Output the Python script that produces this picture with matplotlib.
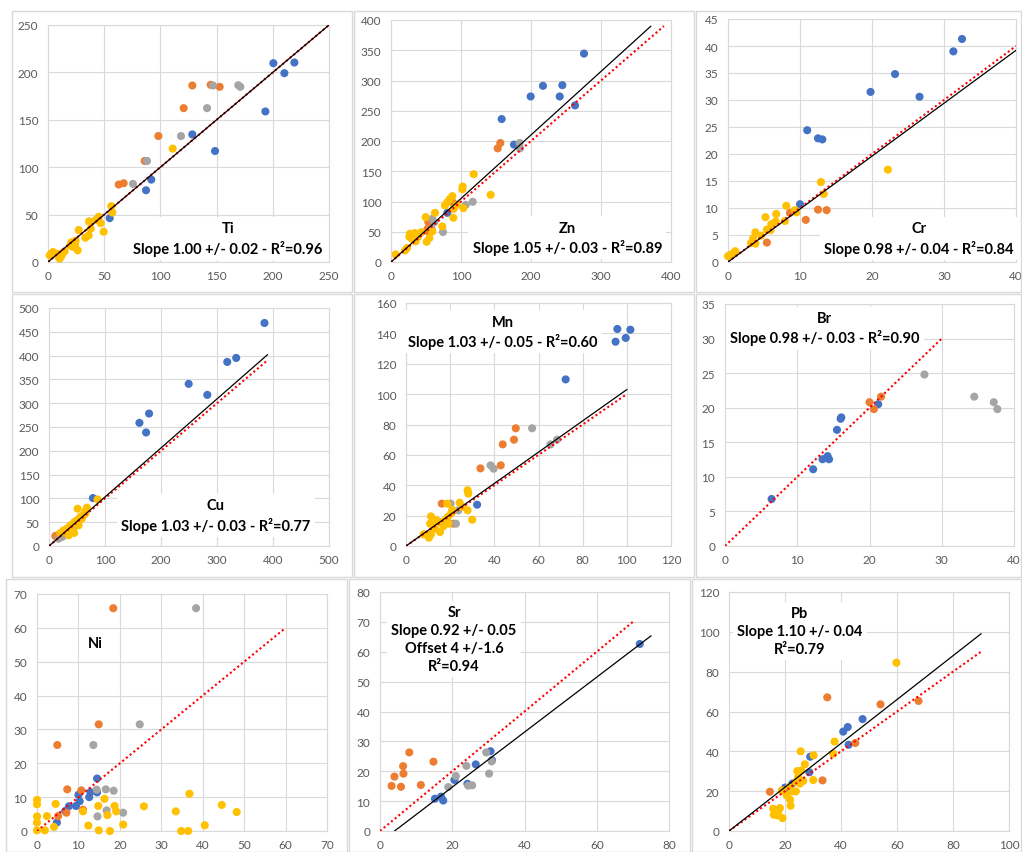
import numpy as np
import matplotlib.pyplot as plt
from matplotlib.patches import Rectangle

BLUE = '#4472C4'
ORANGE = '#ED7D31'
GRAY = '#A5A5A5'
YELLOW = '#FFC000'

# ---- data: (x, y) pairs per series ----
ti_blue = [(200.5, 209.7), (210.3, 199.2), (219.2, 210.4), (193.4, 158.8), (128.4, 134.6),
           (148.6, 117.1), (91.9, 86.9), (87.2, 75.7), (54.9, 46.3)]
ti_orange = [(128.4, 186.2), (144.7, 186.9), (152.7, 184.8), (120.7, 162.3), (98.2, 132.9),
             (86.0, 106.6), (62.9, 81.7), (67.3, 83.1)]
ti_gray = [(146.8, 186.2), (169.3, 186.5), (171.1, 184.8), (141.5, 162.3), (118.3, 132.9),
           (88.1, 106.6), (75.6, 82.4)]
ti_yellow = [(110.9, 119.6), (56.3, 58.9), (57.2, 52.2), (45.1, 47.7), (36.5, 42.8), (42.7, 44.5),
             (46.9, 41.0), (49.5, 31.9), (38.0, 35.1), (36.2, 28.0), (33.2, 25.6), (27.3, 33.7),
             (26.4, 12.3), (24.0, 17.5), (20.8, 20.7), (21.9, 16.1), (24.6, 22.4), (19.9, 17.5),
             (13.3, 9.8), (9.8, 4.6), (10.4, 3.5), (4.4, 10.5), (1.5, 7.0), (7.4, 8.8),
             (11.9, 6.3), (14.8, 11.2), (3.0, 8.8)]

zn_blue = [(275.7, 344.5), (217.1, 291.2), (244.8, 292.3), (199.5, 273.6), (241.0, 273.6),
           (262.9, 258.8), (158.1, 236.3), (175.7, 194.0), (80.5, 81.3)]
zn_orange = [(156.2, 196.7), (152.4, 187.9), (53.3, 65.9), (52.4, 54.9), (54.3, 49.5), (89.0, 97.8)]
zn_gray = [(183.8, 196.7), (184.3, 187.9), (116.7, 99.5), (106.7, 94.5), (74.3, 49.5),
           (61.9, 65.9), (58.1, 54.9), (59.0, 71.4)]
zn_yellow = [(118.1, 145.1), (142.4, 111.0), (102.4, 124.7), (101.9, 120.3), (103.3, 89.0),
             (87.6, 108.8), (80.5, 98.9), (89.5, 87.9), (89.0, 73.1), (62.9, 81.3), (49.5, 74.2),
             (73.3, 58.8), (43.8, 49.5), (38.1, 41.2), (34.3, 47.8), (27.1, 46.7), (26.2, 41.8),
             (29.5, 38.5), (35.2, 34.1), (51.0, 33.5), (54.8, 39.6), (59.0, 50.5), (22.9, 23.1),
             (20.0, 19.2), (6.7, 12.6), (77.1, 93.4), (84.3, 104.4), (93.8, 94.5)]

cr_blue = [(32.5, 41.3), (31.3, 39.0), (23.2, 34.8), (19.8, 31.5), (26.6, 30.6), (11.0, 24.4),
           (12.5, 22.9), (13.1, 22.7), (10.0, 10.7)]
cr_orange = [(12.5, 9.7), (13.7, 9.6), (10.8, 7.8), (5.4, 3.6), (8.6, 9.1)]
cr_gray = []
cr_yellow = [(22.2, 17.1), (12.9, 14.8), (13.3, 12.6), (8.1, 10.4), (9.3, 9.6), (9.5, 9.2),
             (6.7, 8.9), (5.2, 8.3), (7.9, 7.6), (6.6, 7.5), (6.0, 7.0), (5.4, 6.0), (5.9, 5.9),
             (4.6, 4.9), (3.8, 5.5), (3.8, 3.4), (3.2, 3.5), (3.5, 4.4), (1.0, 2.0), (0.3, 1.3),
             (0.0, 1.1), (0.6, 1.5)]

cu_blue = [(384.8, 468.5), (334.3, 395.1), (318.3, 386.7), (249.4, 340.6), (282.7, 317.5),
           (161.5, 258.7), (173.4, 238.5), (178.7, 278.3), (78.4, 100.7)]
cu_orange = [(11.3, 21.0), (15.5, 22.4), (19.0, 19.0), (32.0, 33.0)]
cu_gray = [(42.8, 36.4), (39.8, 31.5), (23.2, 18.9), (17.2, 15.4), (26.1, 22.4), (29.1, 25.9)]
cu_yellow = [(86.7, 97.9), (67.7, 80.4), (65.3, 73.4), (51.1, 78.3), (64.7, 67.8), (55.8, 60.8),
             (49.9, 53.8), (45.1, 50.3), (38.0, 43.4), (32.1, 36.4), (35.0, 22.4), (45.1, 27.3),
             (52.8, 43.4), (58.8, 57.3), (41.0, 32.9), (26.1, 32.9), (20.2, 27.3), (60.6, 64.3)]

mn_blue = [(95.7, 142.9), (101.6, 142.4), (99.5, 137.0), (94.9, 134.5), (72.3, 109.7), (32.2, 27.2)]
mn_orange = [(49.7, 77.5), (48.9, 70.0), (43.8, 66.9), (42.9, 53.1), (33.7, 51.1), (16.2, 27.9),
             (21.4, 14.7)]
mn_gray = [(57.1, 77.5), (68.4, 70.0), (65.4, 66.9), (38.3, 53.1), (39.7, 50.9), (20.2, 27.9),
           (23.7, 23.5), (22.6, 14.7)]
mn_yellow = [(27.9, 36.7), (28.2, 34.5), (24.3, 28.5), (18.7, 27.9), (20.9, 23.9), (25.5, 25.7),
             (27.9, 23.5), (30.0, 17.3), (20.4, 21.3), (18.9, 19.1), (17.7, 16.9), (15.4, 15.8),
             (16.9, 13.0), (13.9, 16.9), (11.3, 19.5), (10.9, 14.7), (13.1, 11.4), (15.4, 9.2),
             (11.3, 7.7), (8.0, 7.7), (10.4, 5.5), (19.2, 14.7), (12.4, 13.6)]

br_blue = [(6.45, 6.8), (12.2, 11.1), (13.5, 12.55), (14.2, 13.0), (14.4, 12.55), (15.5, 16.8),
           (16.0, 18.4), (16.1, 18.6), (21.2, 20.5)]
br_orange = [(20.0, 20.8), (20.6, 19.8), (21.6, 21.6)]
br_gray = [(27.6, 24.8), (34.5, 21.6), (37.2, 20.8), (37.7, 19.8)]
br_yellow = []

ni_blue = [(14.5, 15.5), (14.5, 11.4), (12.9, 11.5), (12.6, 10.0), (10.0, 10.7), (10.3, 8.8),
           (9.4, 7.4), (7.7, 7.3), (6.8, 5.9), (4.8, 2.5)]
ni_orange = [(18.4, 65.8), (14.9, 31.5), (4.9, 25.4), (7.3, 12.3), (10.7, 12.0), (11.1, 6.3),
             (7.1, 5.4), (5.1, 4.4)]
ni_gray = [(38.4, 65.8), (24.8, 31.5), (13.6, 25.4), (16.6, 12.3), (18.5, 11.9), (14.6, 4.3),
           (16.8, 6.1), (20.8, 5.4), (14.4, 12.2)]
ni_yellow = [(0.0, 9.2), (0.0, 7.9), (0.0, 4.3), (0.0, 2.5), (0.0, 0.2), (1.9, 0.2), (2.4, 4.4),
             (4.5, 8.0), (4.1, 1.2), (11.1, 5.8), (12.4, 1.6), (14.8, 7.4), (14.9, 0.2), (16.3, 9.5),
             (17.0, 4.7), (17.6, 0.0), (18.7, 7.4), (19.1, 5.8), (20.8, 1.9), (25.8, 7.3),
             (33.5, 5.8), (34.8, 0.0), (36.8, 11.0), (36.5, 0.0), (40.5, 1.7), (44.6, 7.7),
             (48.2, 5.6)]

sr_blue = [(15.2, 10.8), (16.9, 11.5), (17.5, 10.2), (20.6, 17.1), (24.2, 15.8), (26.5, 22.3),
           (30.6, 26.7), (31.0, 23.7), (71.9, 62.6)]
sr_orange = [(3.2, 15.1), (4.0, 18.2), (5.8, 14.8), (6.4, 21.7), (6.5, 19.2), (8.1, 26.3),
             (11.3, 15.4), (14.8, 23.2)]
sr_gray = [(18.9, 14.7), (21.0, 18.4), (23.9, 21.8), (24.4, 15.2), (25.5, 15.3), (29.4, 26.3),
           (30.2, 19.2), (30.9, 23.3)]
sr_yellow = []

pb_blue = [(47.7, 56.2), (42.4, 52.2), (40.8, 49.9), (42.7, 43.3), (29.0, 37.3), (28.7, 29.5),
           (22.6, 23.8), (20.0, 21.8), (20.6, 19.9)]
pb_orange = [(35.1, 67.1), (54.1, 63.6), (67.7, 65.3), (45.1, 44.2), (33.4, 25.4), (14.6, 19.7)]
pb_gray = []
pb_yellow = [(59.8, 84.5), (37.7, 44.9), (37.2, 38.8), (25.6, 40.0), (30.2, 38.0), (27.1, 33.5),
             (24.4, 30.1), (25.8, 30.3), (24.7, 27.1), (26.5, 25.1), (25.3, 23.8), (30.1, 25.6),
             (23.9, 19.9), (22.4, 19.9), (20.6, 17.9), (21.8, 15.7), (22.0, 12.7), (18.9, 20.4),
             (18.2, 11.5), (15.8, 11.2), (16.0, 8.2), (17.6, 9.9), (19.1, 6.5), (17.2, 7.9),
             (21.5, 22.1), (23.9, 24.6)]

# fitted lines: (slope, intercept, x_start, x_end); None = no fit drawn
fit_ti = (1.00, 0.0, 0, 250)
fit_zn = (1.05, 0.0, 0, 371)
fit_cr = (0.98, 0.0, 0, 40)
fit_cu = (1.03, 0.0, 0, 390)
fit_mn = (1.03, 0.0, 0, 100)
fit_sr = (0.92, -3.7, 4, 75)
fit_pb = (1.10, 0.0, 0, 90)

# 1:1 reference line end
ref_ti, ref_zn, ref_cr, ref_cu, ref_mn = 250, 390, 40, 390, 100
ref_br, ref_ni, ref_sr, ref_pb = 30, 60, 70, 90

labels = {
    'Ti': 'Ti\nSlope 1.00 +/- 0.02 - R²=0.96',
    'Zn': 'Zn\nSlope 1.05 +/- 0.03 - R²=0.89',
    'Cr': 'Cr\nSlope 0.98 +/- 0.04 - R²=0.84',
    'Cu': 'Cu\nSlope 1.03 +/- 0.03 - R²=0.77',
    'Mn': 'Mn\nSlope 1.03 +/- 0.05 - R²=0.60',
    'Br': 'Br\nSlope 0.98 +/- 0.03 - R²=0.90',
    'Ni': 'Ni',
    'Sr': 'Sr\nSlope 0.92 +/- 0.05\nOffset 4 +/-1.6\nR²=0.94',
    'Pb': 'Pb\nSlope 1.10 +/- 0.04\nR²=0.79',
}

W, H = 1022, 853
plt.rcParams['font.family'] = ['Lato', 'DejaVu Sans']
fig = plt.figure(figsize=(W / 100, H / 100), dpi=100)


def px_axes(x0, y0, x1, y1):
    return fig.add_axes([x0 / W, 1 - y1 / H, (x1 - x0) / W, (y1 - y0) / H])


# chart frames (image pixels: x0, y0, x1, y1)
frames = [(12, 12, 352, 293), (354, 12, 694, 293), (696, 12, 1021, 293),
          (12, 295, 352, 578), (354, 295, 694, 578), (696, 295, 1021, 578),
          (6, 580, 347, 853), (349, 580, 690, 853), (692, 580, 1021, 853)]
for x0, y0, x1, y1 in frames:
    fig.add_artist(Rectangle((x0 / W, 1 - y1 / H), (x1 - x0) / W, (y1 - y0) / H,
                             transform=fig.transFigure, fill=False, ec='#d9d9d9', lw=1))

panels = [
    # name, axes px box, xlim, xstep, ylim, ystep, series, fit, ref, label pos
    ('Ti', (48, 26, 329, 263), 250, 50, 250, 50, (ti_blue, ti_orange, ti_gray, ti_yellow),
     fit_ti, ref_ti, (160, 25)),
    ('Zn', (391, 21, 671, 263), 400, 100, 400, 50, (zn_blue, zn_orange, zn_gray, zn_yellow),
     fit_zn, ref_zn, (252, 40)),
    ('Cr', (728, 20, 1016, 263), 40, 10, 45, 5, (cr_blue, cr_orange, cr_gray, cr_yellow),
     fit_cr, ref_cr, (26.5, 4.4)),
    ('Cu', (49, 309, 329, 547), 500, 100, 500, 50, (cu_blue, cu_orange, cu_gray, cu_yellow),
     fit_cu, ref_cu, (298, 64)),
    ('Mn', (406, 304, 671, 547), 120, 20, 160, 20, (mn_blue, mn_orange, mn_gray, mn_yellow),
     fit_mn, ref_mn, (44, 141)),
    ('Br', (725, 305, 1014, 547), 40, 10, 35, 5, (br_blue, br_orange, br_gray, br_yellow),
     None, ref_br, (13.8, 31.5)),
    ('Ni', (37, 595, 327, 832), 70, 10, 70, 10, (ni_blue, ni_orange, ni_gray, ni_yellow),
     None, ref_ni, (14, 55.5)),
    ('Sr', (380, 593, 669, 832), 80, 20, 80, 10, (sr_blue, sr_orange, sr_gray, sr_yellow),
     fit_sr, ref_sr, (20.5, 64.3)),
    ('Pb', (729, 593, 1009, 832), 100, 20, 120, 20, (pb_blue, pb_orange, pb_gray, pb_yellow),
     fit_pb, ref_pb, (25.3, 100.4)),
]

for name, box, xmax, xstep, ymax, ystep, series, fit, ref, lpos in panels:
    ax = px_axes(*box)
    ax.set_xlim(0, xmax)
    ax.set_ylim(0, ymax)
    ax.set_xticks(np.arange(0, xmax + xstep / 2, xstep))
    ax.set_yticks(np.arange(0, ymax + ystep / 2, ystep))
    ax.grid(True, color='#d9d9d9', lw=0.8)
    ax.set_axisbelow(True)
    for sp in ax.spines.values():
        sp.set_color('#d9d9d9')
        sp.set_linewidth(0.8)
    ax.tick_params(length=0, labelsize=8.5, labelcolor='#595959')
    ax.tick_params(axis='x', pad=6)
    ax.tick_params(axis='y', pad=7)

    for pts, col in zip(series, (BLUE, ORANGE, GRAY, YELLOW)):
        if len(pts) == 0:
            continue
        arr = np.array(pts)
        ax.scatter(arr[:, 0], arr[:, 1], s=34, color=col, edgecolors='none',
                   zorder=3, clip_on=False)

    ax.plot([0, ref], [0, ref], color='red', lw=1.5, linestyle=(0, (1, 1.3)), zorder=4)
    if fit is not None:
        k, b, xa, xb = fit
        ax.plot([xa, xb], [k * xa + b, k * xb + b], color='black', lw=0.9, zorder=5)

    ax.text(lpos[0], lpos[1], labels[name], ha='center', va='center', fontsize=10.5,
            fontweight='bold', color='black', linespacing=1.35, zorder=6,
            bbox=dict(fc='white', ec='none', pad=3))

fig.savefig('out.png', dpi=100)
